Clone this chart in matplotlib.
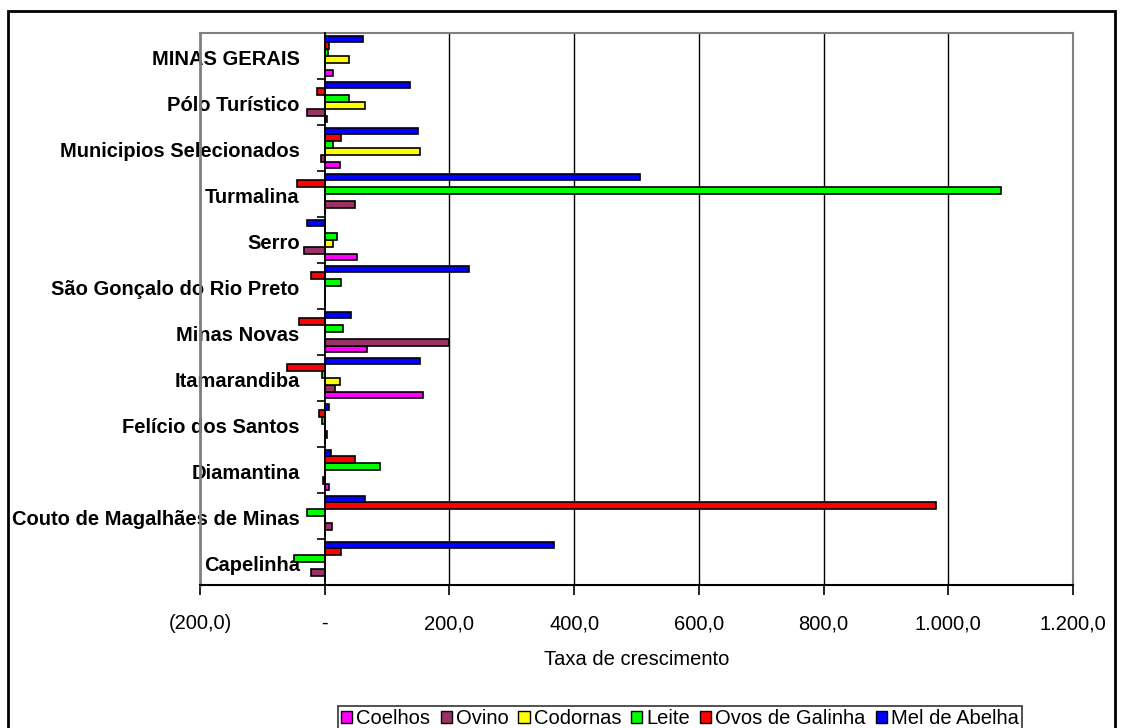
import matplotlib.pyplot as plt
import numpy as np
from matplotlib.patches import Rectangle

plt.rcParams['font.family'] = ['Liberation Sans', 'DejaVu Sans']

# categories from bottom to top
cidades = ["Capelinha", "Couto de Magalhães de Minas", "Diamantina",
           "Felício dos Santos", "Itamarandiba", "Minas Novas",
           "São Gonçalo do Rio Preto", "Serro", "Turmalina",
           "Municipios Selecionados", "Pólo Turístico", "MINAS GERAIS"]

coelhos = [0, 0, 7, 0, 158, 68, 0, 52, 0, 24, 4, 14]
ovino = [-22, 11, -3, 3, 16, 200, 0, -34, 49, -6, -29, 0]
codornas = [0, 0, 0, 0, 24, 0, 0, 13, 0, 153, 65, 39]
leite = [-50, -28, 88, -4, -4, 29, 26, 19, 1084, 13, 39, 6]
ovos = [26, 981, 49, -9, -60, -41, -22, 0, -44, 26, -13, 7]
mel = [367, 65, 10, 7, 153, 42, 232, -29, 505, 149, 137, 62]

series = ["Coelhos", "Ovino", "Codornas", "Leite", "Ovos de Galinha", "Mel de Abelha"]
valores = [coelhos, ovino, codornas, leite, ovos, mel]
cores = ["#FF00FF", "#993366", "#FFFF00", "#00FF00", "#FF0000", "#0000FF"]

fig = plt.figure(figsize=(11.23, 7.28), dpi=100)
ax = fig.add_axes([200/1123, 1-585/728, 873/1123, 552/728])

y = np.arange(len(cidades))
h = 0.148
for i in range(len(series)):
    ax.barh(y + (i - 2.5)*h, valores[i], height=h, color=cores[i],
            edgecolor='black', linewidth=1.2, label=series[i], zorder=3)

ax.set_xlim(-200, 1200)
ax.set_ylim(-0.5, len(cidades) - 0.5)
xt = np.arange(-200, 1201, 200)
ax.set_xticks(xt)

def fmt(v):
    if v == 0:
        return "-"
    s = "{:,.1f}".format(abs(v)).replace(",", "X").replace(".", ",").replace("X", ".")
    return "(" + s + ")" if v < 0 else s

ax.set_xticklabels([fmt(v) for v in xt], fontsize=14.5)
ax.tick_params(axis='x', length=7, width=1.2, pad=14, direction='out')

for v in xt[1:-1]:
    if v != 0:
        ax.axvline(v, color='black', lw=1, zorder=1)

# category axis at zero
ax.spines['left'].set_position(('data', 0))
ax.spines['left'].set_color('black')
ax.spines['left'].set_linewidth(1.3)
ax.spines['left'].set_zorder(4)
ax.set_yticks(y - 0.03)
ax.set_yticklabels(cidades, fontsize=14.5, fontweight='bold')
ax.tick_params(axis='y', which='major', length=0, pad=18)
ax.set_yticks(np.arange(-0.5, len(cidades), 1), minor=True)
ax.tick_params(axis='y', which='minor', length=6, width=1.2, direction='out')
for lab in ax.get_yticklabels():
    lab.set_zorder(5)

for s in ['top', 'right']:
    ax.spines[s].set_color('#808080')
    ax.spines[s].set_linewidth(1.5)
ax.spines['bottom'].set_color('black')
ax.spines['bottom'].set_linewidth(1.5)
ax.axvline(-200, color='#808080', lw=2, clip_on=False, zorder=2)

ax.set_xlabel("Taxa de crescimento", fontsize=14.5, labelpad=12)

leg = fig.legend(loc='upper center', bbox_to_anchor=(0.6055, 1-706/728), ncol=6,
                 fontsize=14.5, frameon=True, fancybox=False, edgecolor='black',
                 handlelength=0.55, handleheight=0.6, handletextpad=0.2,
                 columnspacing=0.5, borderpad=0.15, borderaxespad=0)
leg.get_frame().set_linewidth(1.2)
for p in leg.get_patches():
    p.set_linewidth(1)

fig.patches.append(Rectangle((8/1123, -0.1), 1107/1123, 1.1 - 11/728,
                             transform=fig.transFigure, fill=False,
                             edgecolor='black', linewidth=2))

fig.savefig("out.png", dpi=100)
